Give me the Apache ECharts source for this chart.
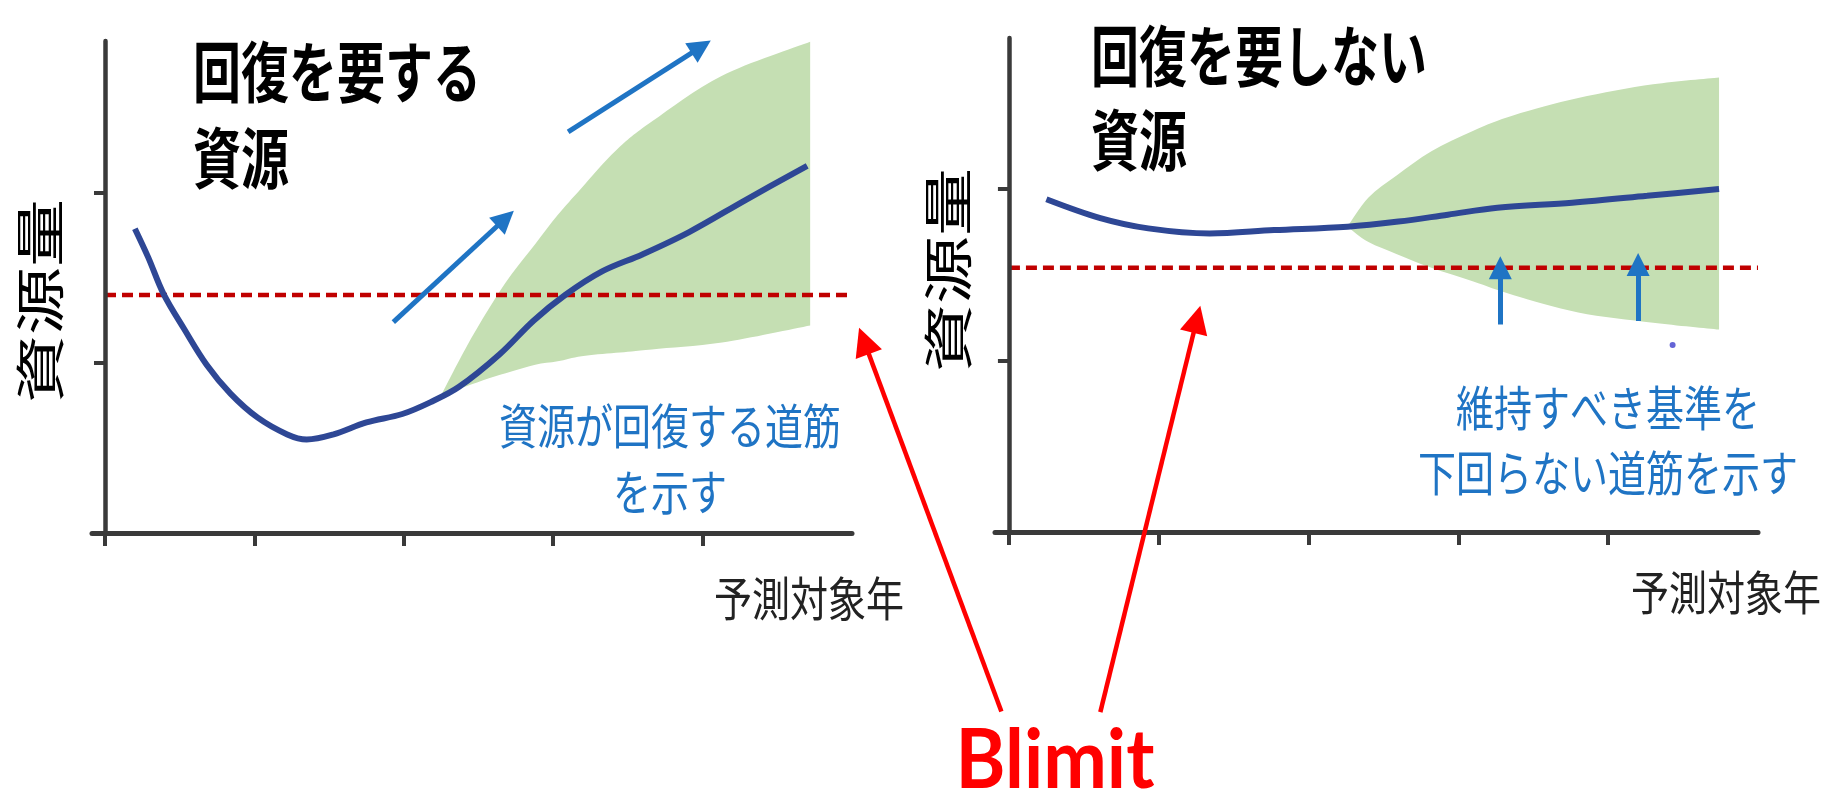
<!DOCTYPE html>
<html><head><meta charset="utf-8">
<script src="https://cdn.jsdelivr.net/npm/echarts@6/dist/echarts.min.js"></script>
<style>html,body{margin:0;padding:0;background:#fff}#c{width:1825px;height:792px}</style>
</head><body><div id="c"></div>
<script>
// ---- Left panel: 回復を要する資源 ----
const leftCurveX = [0.20, 0.29, 0.39, 0.53, 0.68, 0.84, 1.02, 1.22, 1.35, 1.53, 1.75, 1.99, 2.18, 2.37, 2.64, 2.87, 3.08, 3.33, 3.60, 3.91, 4.29, 4.70];
const leftCurveY = [1.79, 1.62, 1.41, 1.20, 0.99, 0.82, 0.68, 0.58, 0.55, 0.58, 0.65, 0.70, 0.77, 0.86, 1.05, 1.25, 1.40, 1.54, 1.64, 1.77, 1.96, 2.16];
const leftBandX     = [2.25, 2.41, 2.57, 2.72, 2.88, 3.03, 3.19, 3.42, 3.66, 4.13, 4.72];
const leftBandLower = [0.81, 0.86, 0.91, 0.95, 0.99, 1.01, 1.04, 1.06, 1.08, 1.12, 1.22];
const leftBandUpper = [0.81, 1.08, 1.32, 1.52, 1.70, 1.87, 2.03, 2.25, 2.42, 2.69, 2.89];
const leftBlimit = 1.40;
const leftArrows = [[[1.93, 1.24], [2.68, 1.85]], [[3.10, 2.36], [3.99, 2.86]]];
const leftPointer = [[6.00, -1.05], [5.08, 1.13]];

// ---- Right panel: 回復を要しない資源 ----
const rightCurveX = [0.25, 0.61, 0.93, 1.34, 1.77, 2.26, 2.60, 2.93, 3.26, 3.76, 4.26, 4.74];
const rightCurveY = [1.94, 1.83, 1.77, 1.74, 1.76, 1.78, 1.81, 1.85, 1.89, 1.92, 1.96, 2.00];
const rightBandX     = [2.26, 2.40, 2.59, 2.82, 3.10, 3.37, 3.80, 4.30, 4.74];
const rightBandLower = [1.78, 1.69, 1.62, 1.54, 1.46, 1.38, 1.28, 1.22, 1.18];
const rightBandUpper = [1.78, 1.95, 2.08, 2.22, 2.34, 2.43, 2.53, 2.61, 2.65];
const rightBlimit = 1.54;
const rightArrows = [[[3.28, 1.21], [3.28, 1.54]], [[4.20, 1.23], [4.20, 1.56]]];
const rightPointer = [[0.61, -1.05], [1.255, 1.24]];
const rightDot = [[4.43, 1.09]];

const xTicks = [0, 1, 2, 3, 4];
const yTicks = [0, 1, 2];
const xEnd = 5.0;

const titles = ['回復を要する\n資源', '回復を要しない\n資源'];
const yNames = ['資源量', '資源量'];
const xNames = ['予測対象年', '予測対象年'];
const notes = ['資源が回復する道筋\nを示す', '維持すべき基準を\n下回らない道筋を示す'];
const blimitLabel = 'Blimit';

const AX = '#3a3a3a', NAVY = '#2e4795', GREEN = '#c5dfb3', RED_D = '#c00000', BLUE = '#1f74c4', RED = '#ff0000';
const JP = "'Noto Sans CJK JP', sans-serif";

function xy(xs, ys) { return xs.map((x, i) => [x, ys[i]]); }

function axes(i, xmin, ymax) {
  return {
    x: {
      type: 'value', gridIndex: i, min: xmin, max: xEnd, z: 5,
      axisLine: { lineStyle: { color: AX, width: 5 } },
      axisTick: { show: true, length: 13, customValues: xTicks, lineStyle: { color: AX, width: 4 } },
      axisLabel: { show: false }, splitLine: { show: false }
    },
    y: {
      type: 'value', gridIndex: i, min: 0, max: ymax, z: 5,
      axisLine: { onZero: true, lineStyle: { color: AX, width: 4.5 } },
      axisTick: { show: true, length: 11, customValues: yTicks, lineStyle: { color: AX, width: 4 } },
      axisLabel: { show: false }, splitLine: { show: false }
    }
  };
}
const a0 = axes(0, -0.087, 2.894), a1 = axes(1, -0.093, 2.88);

// smooth path (Catmull-Rom -> cubic Bezier) through pixel points
function smoothSeg(pts, t) {
  let d = '';
  for (let i = 0; i < pts.length - 1; i++) {
    const p0 = pts[Math.max(i - 1, 0)], p1 = pts[i], p2 = pts[i + 1], p3 = pts[Math.min(i + 2, pts.length - 1)];
    const c1 = [p1[0] + (p2[0] - p0[0]) * t / 6, p1[1] + (p2[1] - p0[1]) * t / 6];
    const c2 = [p2[0] - (p3[0] - p1[0]) * t / 6, p2[1] - (p3[1] - p1[1]) * t / 6];
    d += ' C' + c1[0] + ',' + c1[1] + ' ' + c2[0] + ',' + c2[1] + ' ' + p2[0] + ',' + p2[1];
  }
  return d;
}

function bandSeries(i, bx, bl, bu) {
  return {
    type: 'custom', xAxisIndex: i, yAxisIndex: i, z: 1, silent: true,
    data: bx.map((x, k) => [x, bl[k], bu[k]]),
    encode: { x: 0, y: [1, 2] },
    renderItem: function (params, api) {
      if (params.dataIndex !== 0) return null;
      const up = bx.map((x, k) => api.coord([x, bu[k]]));
      const lo = bx.map((x, k) => api.coord([x, bl[k]])).reverse();
      let d = 'M' + up[0][0] + ',' + up[0][1] + smoothSeg(up, 1);
      d += ' L' + lo[0][0] + ',' + lo[0][1] + smoothSeg(lo, 1) + ' Z';
      return { type: 'path', shape: { pathData: d }, style: { fill: GREEN } };
    }
  };
}

function panelSeries(i, cx, cy, bx, bl, bu, blim, arrows, pointer) {
  return [
    bandSeries(i, bx, bl, bu),
    { type: 'line', xAxisIndex: i, yAxisIndex: i, data: [[0, blim], [xEnd, blim]], symbol: 'none',
      lineStyle: { color: RED_D, width: 4.5, type: [11, 6] }, z: 3 },
    { type: 'line', xAxisIndex: i, yAxisIndex: i, data: xy(cx, cy), smooth: 0.35, symbol: 'none',
      lineStyle: { color: NAVY, width: 6 }, z: 4 },
    { type: 'lines', coordinateSystem: 'cartesian2d', xAxisIndex: i, yAxisIndex: i,
      data: arrows.map(a => ({ coords: a })), symbol: ['none', 'triangle'], symbolSize: [21, 23],
      lineStyle: { color: BLUE, width: 5, opacity: 1 }, z: 5 },
    { type: 'lines', coordinateSystem: 'cartesian2d', xAxisIndex: i, yAxisIndex: i, clip: false,
      data: [{ coords: pointer }], symbol: ['none', 'triangle'], symbolSize: [24, 28],
      lineStyle: { color: RED, width: 4.5, opacity: 1 }, z: 10 }
  ];
}

function txt(text, x, y, o) {
  return Object.assign({ type: 'text', x: x, y: y, z: 20,
    style: Object.assign({ text: text, fill: '#000' }, o.style) }, o.el || {});
}

const chart = echarts.init(document.getElementById('c'));
chart.setOption({
  animation: false,
  backgroundColor: '#fff',
  grid: [
    { left: 92, top: 41, width: 760, height: 492 },
    { left: 995, top: 38, width: 763, height: 494 }
  ],
  xAxis: [a0.x, a1.x],
  yAxis: [a0.y, a1.y],
  series: [].concat(
    panelSeries(0, leftCurveX, leftCurveY, leftBandX, leftBandLower, leftBandUpper, leftBlimit, leftArrows, leftPointer),
    panelSeries(1, rightCurveX, rightCurveY, rightBandX, rightBandLower, rightBandUpper, rightBlimit, rightArrows, rightPointer),
    [{ type: 'scatter', xAxisIndex: 1, yAxisIndex: 1, data: rightDot, symbolSize: 6, itemStyle: { color: '#3d3dcc' }, z: 6 }]
  ),
  graphic: [
    txt(titles[0], 193, 29, { style: { font: 'bold 48px ' + JP, textAlign: 'left', textVerticalAlign: 'top', lineHeight: 62 }, el: { scaleY: 1.38 } }),
    txt(titles[1], 1091, 14, { style: { font: 'bold 48px ' + JP, textAlign: 'left', textVerticalAlign: 'top', lineHeight: 61 }, el: { scaleY: 1.38 } }),
    txt(yNames[0], 40, 301, { style: { font: '50px ' + JP, textAlign: 'center', textVerticalAlign: 'middle' }, el: { rotation: Math.PI / 2, scaleX: 1.36 } }),
    txt(yNames[1], 948, 270, { style: { font: '50px ' + JP, textAlign: 'center', textVerticalAlign: 'middle' }, el: { rotation: Math.PI / 2, scaleX: 1.36 } }),
    txt(notes[0], 670, 392, { style: { font: '38px ' + JP, fill: BLUE, textAlign: 'center', textVerticalAlign: 'top', lineHeight: 53 }, el: { scaleY: 1.26 } }),
    txt(notes[1], 1608, 375, { style: { font: '38px ' + JP, fill: BLUE, textAlign: 'center', textVerticalAlign: 'top', lineHeight: 52 }, el: { scaleY: 1.26 } }),
    txt(xNames[0], 809, 598, { style: { font: '38px ' + JP, fill: '#222', textAlign: 'center', textVerticalAlign: 'middle' }, el: { scaleY: 1.22 } }),
    txt(xNames[1], 1726, 592, { style: { font: '38px ' + JP, fill: '#222', textAlign: 'center', textVerticalAlign: 'middle' }, el: { scaleY: 1.22 } }),
    txt(blimitLabel, 1055, 762, { style: { font: 'bold 76px Lato, sans-serif', fill: RED, textAlign: 'center', textVerticalAlign: 'middle' }, el: { scaleY: 1.08 } })
  ]
});
</script>
</body></html>
